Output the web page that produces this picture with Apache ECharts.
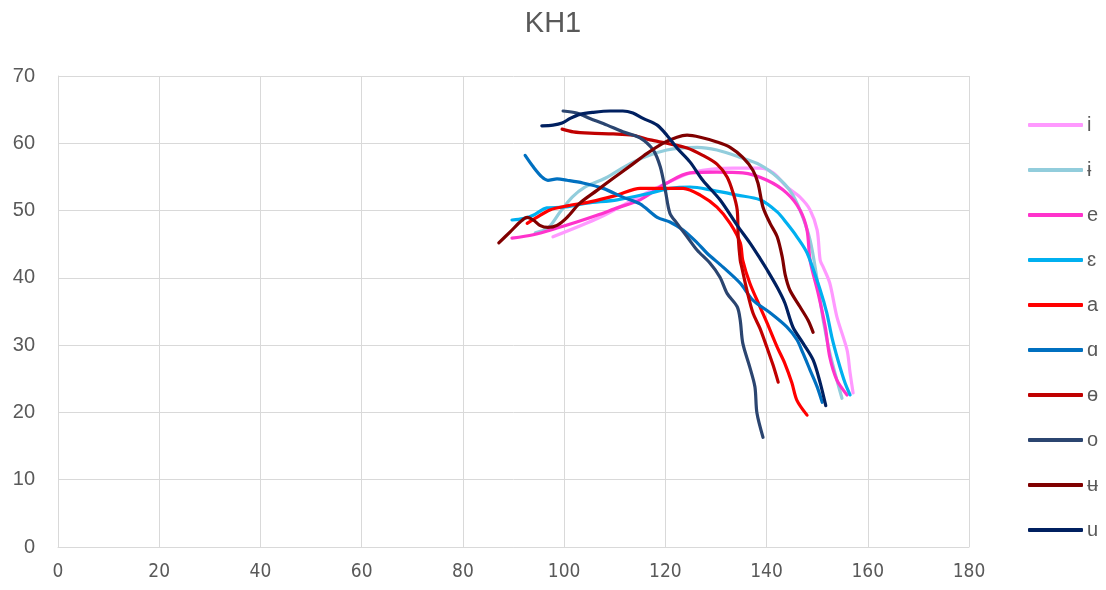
<!DOCTYPE html>
<html>
<head>
<meta charset="utf-8">
<script src="https://cdn.jsdelivr.net/npm/echarts@6/dist/echarts.min.js"></script>
<style>html,body{margin:0;padding:0;background:#fff}#c{width:1106px;height:590px}</style>
</head>
<body>
<div id="c"></div>
<script>
const seriesNames = ["i", "ɨ", "e", "ɛ", "a", "ɑ", "ɵ", "o", "ʉ", "u"];
const seriesColors = ["#FF99FF", "#92CDDC", "#FF33CC", "#00B0F0", "#FF0000", "#0070C0", "#C00000", "#2B4570", "#800000", "#002060"];
const xTicks = [0, 20, 40, 60, 80, 100, 120, 140, 160, 180];
const yTicks = [0, 10, 20, 30, 40, 50, 60, 70];

const data_i = [[97.8,46.1],[107.1,49.0],[113.6,51.6],[120.3,54.1],[125.5,55.7],[133.4,56.3],[138.7,56.3],[141.3,55.6],[144.0,53.5],[146.6,52.0],[148.6,50.1],[150.0,47.1],[150.6,42.6],[151.2,41.6],[152.5,39.2],[153.9,34.2],[155.9,29.3],[156.5,25.9],[157.1,22.9]];
const data_barI = [[94.3,46.7],[96.8,47.4],[99.2,49.8],[101.6,52.0],[104.1,53.5],[108.1,54.8],[113.6,57.2],[120.3,59.0],[126.3,59.4],[130.2,59.0],[134.8,57.9],[138.7,56.8],[142.1,55.0],[144.6,53.0],[146.6,50.1],[148.6,45.6],[150.0,39.7],[151.2,33.7],[152.5,28.8],[153.9,24.8],[154.9,22.1]];
const data_e = [[89.7,45.9],[93.9,46.4],[98.6,47.4],[102.5,48.3],[106.5,49.3],[110.5,50.4],[115.0,51.6],[120.3,54.1],[124.9,55.6],[130.2,55.7],[135.3,55.6],[140.1,54.5],[144.0,52.6],[146.6,50.1],[148.0,47.1],[148.6,42.6],[150.2,37.7],[151.6,32.7],[152.5,28.2],[153.9,24.8],[155.9,22.6]];
const data_eps = [[89.7,48.6],[91.9,48.8],[93.9,49.3],[96.6,50.4],[99.8,50.5],[104.5,51.1],[110.5,51.6],[117.0,52.6],[120.9,53.3],[124.9,53.5],[129.4,53.0],[134.2,52.3],[138.7,51.6],[142.1,49.8],[144.0,48.1],[146.0,46.1],[148.0,43.7],[150.6,38.2],[151.9,34.8],[152.9,31.2],[154.1,27.8],[155.5,24.4],[156.5,22.6]];
const data_a = [[92.7,48.1],[94.6,49.0],[97.2,50.1],[100.6,50.7],[105.1,51.3],[110.5,52.3],[115.0,53.3],[120.3,53.3],[123.5,53.3],[126.9,52.3],[130.2,50.5],[132.8,48.1],[134.8,45.2],[135.3,42.6],[136.7,39.2],[138.7,35.7],[140.1,33.3],[142.1,29.7],[143.6,27.3],[145.0,24.4],[146.0,21.8],[148.0,19.6]];
const data_alpha = [[92.3,58.2],[93.9,56.5],[95.6,55.0],[96.8,54.5],[98.6,54.7],[100.6,54.5],[103.7,54.1],[107.7,53.3],[111.6,52.0],[115.0,51.0],[118.4,49.0],[120.9,48.3],[123.5,47.1],[126.3,45.2],[128.2,43.7],[131.4,41.6],[134.8,39.2],[137.3,36.7],[140.7,34.8],[144.0,32.7],[146.0,30.8],[147.2,28.8],[148.6,26.3],[150.0,23.8],[151.0,21.5]];
const data_barO = [[99.6,62.1],[101.8,61.7],[105.1,61.5],[109.7,61.4],[113.6,61.2],[117.0,60.5],[120.3,60.0],[124.3,59.3],[127.4,58.2],[130.2,56.9],[132.2,55.0],[133.4,52.6],[134.2,50.1],[134.4,46.1],[134.8,42.6],[135.1,41.6],[136.1,38.2],[137.3,34.8],[138.7,32.5],[140.1,29.6],[141.3,27.0],[142.3,24.5]];
const data_o = [[99.8,64.8],[102.5,64.5],[105.1,63.7],[108.5,62.7],[111.6,61.7],[115.0,60.8],[117.6,59.0],[119.0,56.5],[120.0,53.0],[120.9,49.6],[122.3,48.1],[124.3,46.1],[126.3,44.1],[128.8,42.2],[130.8,40.1],[132.2,37.7],[134.2,35.7],[134.8,33.7],[135.3,30.3],[136.7,26.7],[137.7,23.8],[138.1,19.9],[139.3,16.3]];
const data_barU = [[87.1,45.2],[89.3,46.8],[91.3,48.3],[92.7,49.0],[93.9,48.6],[95.2,47.8],[96.8,47.5],[98.6,47.8],[100.6,49.0],[103.1,51.1],[106.5,53.0],[109.7,54.8],[113.0,56.6],[116.4,58.5],[119.5,60.0],[122.3,60.9],[124.3,61.2],[126.9,60.9],[130.2,60.2],[132.8,59.4],[135.3,57.9],[137.3,56.0],[138.3,54.1],[139.3,50.5],[140.7,48.1],[142.1,46.1],[143.1,43.1],[143.7,40.4],[144.6,38.2],[146.6,35.7],[148.2,33.7],[149.2,31.9]];
const data_u = [[95.6,62.6],[97.8,62.7],[99.6,63.0],[101.2,63.7],[103.1,64.3],[105.7,64.6],[109.1,64.8],[111.6,64.8],[113.6,64.5],[115.6,63.7],[118.4,62.7],[120.3,61.2],[122.3,59.3],[124.9,57.2],[127.4,54.5],[130.8,51.6],[134.2,47.8],[136.7,45.2],[138.7,42.9],[140.1,41.2],[142.1,38.6],[143.6,36.3],[145.2,32.7],[147.2,30.3],[149.2,27.8],[150.6,24.4],[151.7,21.0]];

const allData = [data_i, data_barI, data_e, data_eps, data_a, data_alpha, data_barO, data_o, data_barU, data_u];

const FONT = "'Liberation Sans', 'DejaVu Sans', sans-serif";
const NARROW = "'Liberation Sans Narrow', 'DejaVu Sans Condensed', 'Liberation Sans', sans-serif";
const chart = echarts.init(document.getElementById('c'), null, {renderer: 'canvas'});
chart.setOption({
  animation: false,
  backgroundColor: '#ffffff',
  title: {
    text: 'KH1', left: 'center', top: 4,
    textStyle: {fontFamily: FONT, fontSize: 29, fontWeight: 'normal', color: '#595959'}
  },
  grid: {left: 58, right: 137, top: 76, bottom: 43, containLabel: false},
  legend: {
    orient: 'vertical', left: 1023, top: 110,
    itemWidth: 55, itemHeight: 4, itemGap: 25,
    icon: 'roundRect',
    data: seriesNames,
    textStyle: {fontFamily: FONT, fontSize: 20, color: '#595959', padding: [0, 0, 0, -1]}
  },
  xAxis: {
    type: 'value', min: xTicks[0], max: xTicks[xTicks.length - 1], interval: 20,
    axisLine: {show: true, lineStyle: {color: '#d9d9d9', width: 1}},
    axisTick: {show: false},
    splitLine: {show: true, lineStyle: {color: '#d9d9d9', width: 1}},
    axisLabel: {fontFamily: NARROW, fontSize: 19, color: '#595959', margin: 16}
  },
  yAxis: {
    type: 'value', min: yTicks[0], max: yTicks[yTicks.length - 1], interval: 10,
    axisLine: {show: true, lineStyle: {color: '#d9d9d9', width: 1}},
    axisTick: {show: false},
    splitLine: {show: true, lineStyle: {color: '#d9d9d9', width: 1}},
    axisLabel: {fontFamily: FONT, fontSize: 20, color: '#595959', margin: 23}
  },
  series: seriesNames.map((n, k) => ({
    name: n, type: 'line', data: allData[k],
    smooth: 0.3, symbol: 'none', showSymbol: false,
    color: seriesColors[k],
    lineStyle: {width: 3.2, color: seriesColors[k], cap: 'round', join: 'round'},
    emphasis: {disabled: true}
  }))
});
</script>
</body>
</html>
